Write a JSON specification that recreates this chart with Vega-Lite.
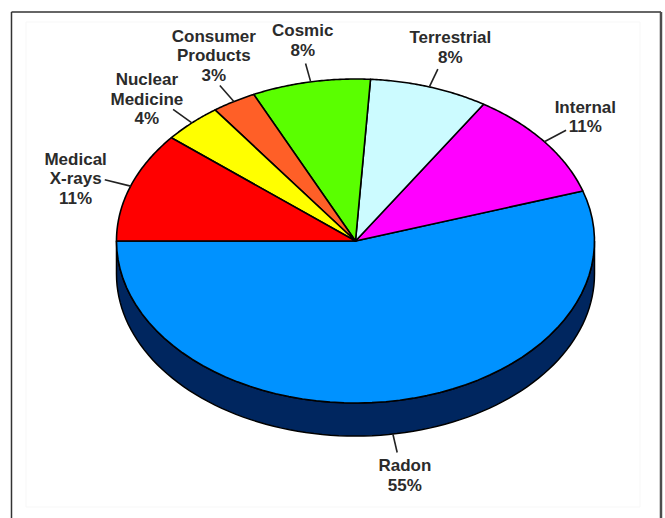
{"$schema":"https://vega.github.io/schema/vega-lite/v6.json","width":665,"height":518,"padding":0,"autosize":"none","background":"white","view":{"stroke":null},
"datasets":{"sources":[
{"name":"Radon","share":55,"order":1,"label":["Radon","55%"]},
{"name":"Internal","share":11,"order":2,"label":["Internal","11%"]},
{"name":"Terrestrial","share":8,"order":3,"label":["Terrestrial","8%"]},
{"name":"Cosmic","share":8,"order":4,"label":["Cosmic","8%"]},
{"name":"Consumer Products","share":3,"order":5,"label":["Consumer","Products","3%"]},
{"name":"Nuclear Medicine","share":4,"order":6,"label":["Nuclear","Medicine","4%"]},
{"name":"Medical X-rays","share":11,"order":7,"label":["Medical","X-rays","11%"]}
]},
"data":{"name":"sources"},
"transform":[
{"window":[{"op":"sum","field":"share","as":"cum"}],"sort":[{"field":"order"}]},
{"calculate":"PI+2*PI*(datum.cum-datum.share)/100","as":"t0"},
{"calculate":"PI+2*PI*datum.cum/100","as":"t1"},
{"calculate":"(datum.t0+datum.t1)/2","as":"mid"},
{"calculate":"cos(datum.mid)","as":"mx"},
{"calculate":"sin(datum.mid)","as":"my"},
{"calculate":"datum.my<0?0.204:0","as":"drop"}
],
"encoding":{
"x":{"type":"quantitative","scale":{"domain":[-1.4874,1.295],"nice":false,"zero":false},"axis":null},
"y":{"type":"quantitative","scale":{"domain":[-1.7099,1.4877],"nice":false,"zero":false},"axis":null}
},
"layer":[
{"data":{"values":[{}]},"mark":{"type":"rect","fill":"#ffffff","stroke":"#f7f7f7","strokeWidth":1},"encoding":{"x":{"datum":-1.3787,"type":"quantitative"},"x2":{"datum":1.1904},"y":{"datum":1.3519,"type":"quantitative"},"y2":{"datum":-1.6420}}},
{"data":{"values":[{}]},"mark":{"type":"rule","stroke":"#333333","strokeWidth":1.5},"encoding":{"x":{"datum":-1.4393,"type":"quantitative"},"y":{"datum":1.4136,"type":"quantitative"},"y2":{"datum":-1.7099}}},
{"data":{"values":[{}]},"mark":{"type":"rule","stroke":"#333333","strokeWidth":1.5},"encoding":{"x":{"datum":-1.4393,"type":"quantitative"},"x2":{"datum":1.2782},"y":{"datum":1.4136,"type":"quantitative"}}},
{"data":{"values":[{}]},"mark":{"type":"rule","stroke":"#4d4d4d","strokeWidth":2.5},"encoding":{"x":{"datum":1.2782,"type":"quantitative"},"y":{"datum":1.4136,"type":"quantitative"},"y2":{"datum":-1.7099}}},
{"transform":[
{"filter":"datum.name==='Radon'"},
{"calculate":"sequence(0,91)","as":"k"},{"flatten":["k"]},
{"calculate":"PI*(1+datum.k/90)","as":"t"},
{"calculate":"cos(datum.t)","as":"ex"},
{"calculate":"sin(datum.t)","as":"ey"},
{"calculate":"datum.ey-0.204","as":"ey2"}
],
"mark":{"type":"area","fill":"#00265f","stroke":"#000000","strokeWidth":1.5,"orient":"vertical"},
"encoding":{"x":{"field":"ex","type":"quantitative"},"y":{"field":"ey","type":"quantitative"},"y2":{"field":"ey2"}}},
{"transform":[
{"calculate":"sequence(0,61)","as":"k"},{"flatten":["k"]},
{"calculate":"datum.t0+(datum.k-1)/59*(datum.t1-datum.t0)","as":"t"},
{"calculate":"datum.k==0?0:cos(datum.t)","as":"px"},
{"calculate":"datum.k==0?0:sin(datum.t)","as":"py"}
],
"mark":{"type":"line","interpolate":"linear-closed","stroke":"#000000","strokeWidth":1.6,"strokeJoin":"round"},
"encoding":{"x":{"field":"px","type":"quantitative"},"y":{"field":"py","type":"quantitative"},"order":{"field":"k","type":"quantitative"},
"fill":{"field":"name","type":"nominal","legend":null,"scale":{"domain":["Radon","Internal","Terrestrial","Cosmic","Consumer Products","Nuclear Medicine","Medical X-rays"],"range":["#0092ff","#ff00ff","#ccfbff","#5aff00","#ff5f27","#ffff00","#ff0000"]}}}},
{"transform":[
{"calculate":"datum.my-datum.drop","as":"ly"},
{"calculate":"datum.mx*1.115","as":"lx2"},
{"calculate":"datum.my*1.115-datum.drop","as":"ly2"}
],
"mark":{"type":"rule","stroke":"#222222","strokeWidth":1.6},
"encoding":{"x":{"field":"mx","type":"quantitative"},"y":{"field":"ly","type":"quantitative"},"x2":{"field":"lx2"},"y2":{"field":"ly2"}}},
{"transform":[{"filter":"datum.name==='Radon'"}],"mark":{"type":"text","dx":12,"dy":65.25,"align":"center","baseline":"middle","font":"Liberation Sans","fontWeight":"bold","fontSize":17,"lineHeight":19.5,"fill":"#2b2b2b"},"encoding":{"x":{"field":"mx","type":"quantitative"},"y":{"field":"my","type":"quantitative"},"text":{"field":"label"}}},
{"transform":[{"filter":"datum.name==='Internal'"}],"mark":{"type":"text","dx":41,"dy":-33.75,"align":"center","baseline":"middle","font":"Liberation Sans","fontWeight":"bold","fontSize":17,"lineHeight":19.5,"fill":"#2b2b2b"},"encoding":{"x":{"field":"mx","type":"quantitative"},"y":{"field":"my","type":"quantitative"},"text":{"field":"label"}}},
{"transform":[{"filter":"datum.name==='Terrestrial'"}],"mark":{"type":"text","dx":21,"dy":-48.75,"align":"center","baseline":"middle","font":"Liberation Sans","fontWeight":"bold","fontSize":17,"lineHeight":19.5,"fill":"#2b2b2b"},"encoding":{"x":{"field":"mx","type":"quantitative"},"y":{"field":"my","type":"quantitative"},"text":{"field":"label"}}},
{"transform":[{"filter":"datum.name==='Cosmic'"}],"mark":{"type":"text","dx":-8,"dy":-50.75,"align":"center","baseline":"middle","font":"Liberation Sans","fontWeight":"bold","fontSize":17,"lineHeight":19.5,"fill":"#2b2b2b"},"encoding":{"x":{"field":"mx","type":"quantitative"},"y":{"field":"my","type":"quantitative"},"text":{"field":"label"}}},
{"transform":[{"filter":"datum.name==='Consumer Products'"}],"mark":{"type":"text","dx":-20,"dy":-65,"align":"center","baseline":"middle","font":"Liberation Sans","fontWeight":"bold","fontSize":17,"lineHeight":19.5,"fill":"#2b2b2b"},"encoding":{"x":{"field":"mx","type":"quantitative"},"y":{"field":"my","type":"quantitative"},"text":{"field":"label"}}},
{"transform":[{"filter":"datum.name==='Nuclear Medicine'"}],"mark":{"type":"text","dx":-45,"dy":-42.5,"align":"center","baseline":"middle","font":"Liberation Sans","fontWeight":"bold","fontSize":17,"lineHeight":19.5,"fill":"#2b2b2b"},"encoding":{"x":{"field":"mx","type":"quantitative"},"y":{"field":"my","type":"quantitative"},"text":{"field":"label"}}},
{"transform":[{"filter":"datum.name==='Medical X-rays'"}],"mark":{"type":"text","dx":-55,"dy":-26.5,"align":"center","baseline":"middle","font":"Liberation Sans","fontWeight":"bold","fontSize":17,"lineHeight":19.5,"fill":"#2b2b2b"},"encoding":{"x":{"field":"mx","type":"quantitative"},"y":{"field":"my","type":"quantitative"},"text":{"field":"label"}}}
]}
